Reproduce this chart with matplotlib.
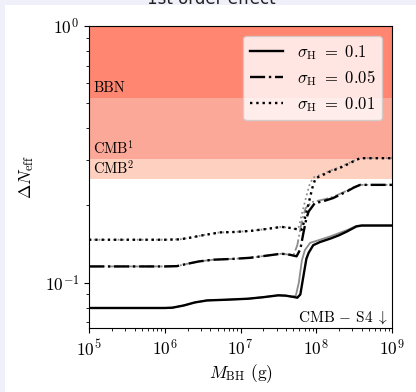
import numpy as np
import matplotlib
matplotlib.use("Agg")
import matplotlib.pyplot as plt
from matplotlib.patches import Rectangle

plt.rcParams['font.family'] = 'serif'
plt.rcParams['font.serif'] = ['cmr10']
plt.rcParams['mathtext.fontset'] = 'cm'
plt.rcParams['axes.unicode_minus'] = False
plt.rcParams['axes.formatter.use_mathtext'] = True

# observational bounds on Delta N_eff (lowest first)
band_names = ["CMB$^2$", "CMB$^1$", "BBN"]
band_vals = [0.253, 0.303, 0.525]
band_colors = ["#fdd0c0", "#fca898", "#ff8670"]
y_min = 0.0666

# sigma_H = 0.1
logm_a = [5.0, 6.0, 6.1, 6.25, 6.4, 6.56, 6.8, 7.1, 7.3, 7.5, 7.6, 7.7, 7.75, 7.79,
          7.83, 7.87, 7.9, 7.96, 8.05, 8.2, 8.3, 8.4, 8.53, 8.6, 9.0]
dn_a = [0.0797, 0.0797, 0.0799, 0.0815, 0.0838, 0.0853, 0.0858, 0.0866, 0.0878, 0.0893,
        0.0890, 0.0880, 0.0874, 0.090, 0.1058, 0.124, 0.1308, 0.140, 0.144, 0.149,
        0.153, 0.158, 0.1656, 0.167, 0.167]
# sigma_H = 0.05
logm_b = [5.0, 6.0, 6.16, 6.3, 6.45, 6.64, 6.9, 7.125, 7.35, 7.54, 7.65, 7.74, 7.79,
          7.83, 7.87, 7.9, 7.98, 8.1, 8.22, 8.3, 8.4, 8.5, 8.58, 9.0]
dn_b = [0.1157, 0.1157, 0.1160, 0.1185, 0.121, 0.1229, 0.1238, 0.125, 0.1275, 0.1297,
        0.1285, 0.1267, 0.135, 0.156, 0.178, 0.1894, 0.204, 0.208, 0.2135, 0.219,
        0.2265, 0.235, 0.2405, 0.2405]
# sigma_H = 0.01
logm_c = [5.0, 6.0, 6.2, 6.35, 6.5, 6.73, 6.9, 7.125, 7.35, 7.54, 7.65, 7.75, 7.81,
          7.85, 7.9, 7.95, 7.99, 8.1, 8.18, 8.3, 8.4, 8.5, 8.58, 9.0]
dn_c = [0.147, 0.147, 0.1475, 0.150, 0.153, 0.157, 0.1575, 0.159, 0.162, 0.165, 0.1635,
        0.1615, 0.1608, 0.178, 0.204, 0.235, 0.255, 0.264, 0.271, 0.279, 0.288, 0.298,
        0.3055, 0.3055]
# grey counterparts (shifted transition)
logm_a2 = [5.0, 6.0, 6.1, 6.25, 6.4, 6.56, 6.8, 7.1, 7.3, 7.5, 7.6, 7.68, 7.73, 7.77,
           7.81, 7.85, 7.92, 8.05, 8.2, 8.3, 8.4, 8.53, 8.6, 9.0]
dn_a2 = [0.0797, 0.0797, 0.0799, 0.0815, 0.0838, 0.0853, 0.0858, 0.0866, 0.0878, 0.0893,
         0.0890, 0.0882, 0.089, 0.100, 0.122, 0.134, 0.143, 0.147, 0.152, 0.156, 0.160,
         0.1665, 0.167, 0.167]
logm_b2 = [5.0, 6.0, 6.16, 6.3, 6.45, 6.64, 6.9, 7.125, 7.35, 7.54, 7.65, 7.7, 7.75,
           7.79, 7.83, 7.86, 7.94, 8.1, 8.22, 8.3, 8.4, 8.5, 8.58, 9.0]
dn_b2 = [0.1157, 0.1157, 0.1160, 0.1185, 0.121, 0.1229, 0.1238, 0.125, 0.1275, 0.1297,
         0.1285, 0.128, 0.140, 0.162, 0.183, 0.195, 0.206, 0.211, 0.216, 0.221, 0.228,
         0.236, 0.2405, 0.2405]
logm_c2 = [5.0, 6.0, 6.2, 6.35, 6.5, 6.73, 6.9, 7.125, 7.35, 7.54, 7.65, 7.72, 7.77,
           7.81, 7.86, 7.91, 7.96, 8.1, 8.18, 8.3, 8.4, 8.5, 8.58, 9.0]
dn_c2 = [0.147, 0.147, 0.1475, 0.150, 0.153, 0.157, 0.1575, 0.159, 0.162, 0.165, 0.1635,
         0.162, 0.165, 0.185, 0.212, 0.240, 0.257, 0.266, 0.273, 0.281, 0.290, 0.299,
         0.3055, 0.3055]

labels = [r"$\sigma_{\rm H}\ =\ 0.1$", r"$\sigma_{\rm H}\ =\ 0.05$", r"$\sigma_{\rm H}\ =\ 0.01$"]
styles = ["-", "-.", ":"]

fig = plt.figure(figsize=(4.16, 3.92), dpi=100, facecolor="#f0f0fb")
bg = Rectangle((5 / 416, 0), 1, 1 - 5 / 392, transform=fig.transFigure,
               facecolor="white", edgecolor="none", zorder=-10)
fig.patches.append(bg)
fig.text(0.507, 1 - 4 / 392, "1st order effect", family="DejaVu Sans", fontsize=12,
         ha="center", va="baseline", color="#222222")

ax = fig.add_axes([89 / 416, 1 - 328 / 392, 303 / 416, 302 / 392])
ax.set_xscale("log")
ax.set_yscale("log")
ax.set_xlim(1e5, 1e9)
ax.set_ylim(y_min, 1)

for val, col in zip(band_vals, band_colors):
    ax.axhspan(val, 1, color=col, lw=0, zorder=0)
for name, val in zip(band_names, band_vals):
    ax.text(1.13e5, val * 1.025, name, fontsize=10.5, va="bottom")

ax.text(0.987, 0.008, r"${\rm CMB}\,-\,{\rm S4}\ \downarrow$", fontsize=11,
        ha="right", va="bottom", transform=ax.transAxes)

grey = "#8c8c8c"
for lm, dn, ls in zip([logm_a2, logm_b2, logm_c2], [dn_a2, dn_b2, dn_c2], styles):
    ax.plot(10 ** np.array(lm), dn, ls=ls, color=grey, lw=1.3, zorder=2)
for lm, dn, ls, lab in zip([logm_a, logm_b, logm_c], [dn_a, dn_b, dn_c], styles, labels):
    ax.plot(10 ** np.array(lm), dn, ls=ls, color="black", lw=1.7, label=lab, zorder=3)

ax.legend(loc="upper right", fontsize=12, framealpha=0.8, borderaxespad=0.6,
          labelspacing=0.4)
ax.set_xlabel(r"$M_{\rm BH}$ (g)", fontsize=12.5, labelpad=3)
ax.set_ylabel(r"$\Delta N_{\rm eff}$", fontsize=12.5, labelpad=6)
ax.tick_params(labelsize=12.5)

fig.savefig("out.png", dpi=100, facecolor=fig.get_facecolor())
